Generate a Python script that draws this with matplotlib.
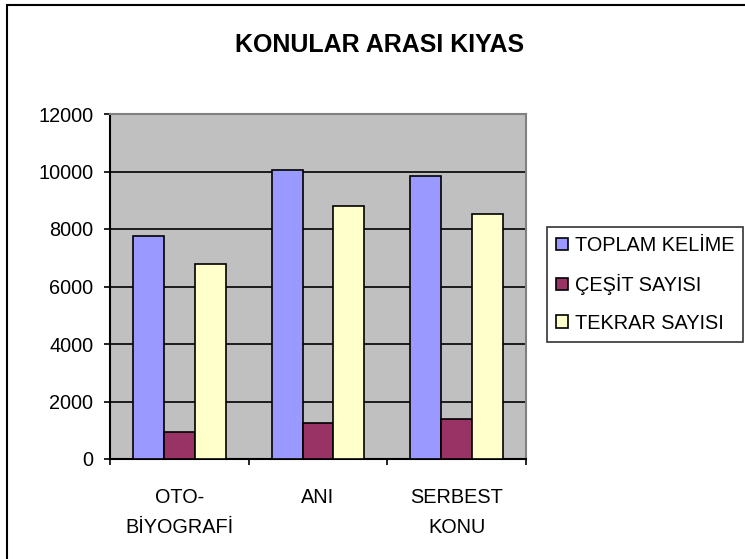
import matplotlib
matplotlib.use("Agg")
import matplotlib.pyplot as plt
from matplotlib.patches import Rectangle
import numpy as np

categories = ["OTO-\nBİYOGRAFİ", "ANI", "SERBEST\nKONU"]
series_names = ["TOPLAM KELİME", "ÇEŞİT SAYISI", "TEKRAR SAYISI"]
toplam_kelime = [7750, 10060, 9860]
cesit_sayisi = [950, 1240, 1390]
tekrar_sayisi = [6770, 8800, 8530]
y_ticks = [0, 2000, 4000, 6000, 8000, 10000, 12000]
title = "KONULAR ARASI KIYAS"

colors = ["#9999FF", "#993366", "#FFFFCC"]

plt.rcParams['font.family'] = ['Liberation Sans', 'DejaVu Sans']

W, H = 745, 559
fig = plt.figure(figsize=(W / 100, H / 100), dpi=100)
fig.patch.set_facecolor("white")

# outer chart border (cut off at right/bottom in the reference)
fig.patches.append(Rectangle((7 / W, -0.1), 2.0, (H - 5) / H + 0.1,
                             transform=fig.transFigure, fill=False,
                             edgecolor="black", linewidth=1.5, zorder=0))

ax = fig.add_axes([110 / W, (H - 459) / H, 416 / W, 345 / H])
ax.set_facecolor("#C0C0C0")

x = np.arange(len(categories))
w = 1 / 4.5
data = [toplam_kelime, cesit_sayisi, tekrar_sayisi]
for i, (vals, name, c) in enumerate(zip(data, series_names, colors)):
    ax.bar(x + (i - 1) * w, vals, width=w, color=c, edgecolor="black",
           linewidth=1.2, label=name, zorder=3)

ax.set_xlim(-0.5, len(categories) - 0.5)
ax.set_ylim(0, 12000)
ax.set_yticks(y_ticks)
ax.set_yticklabels([str(v) for v in y_ticks], fontsize=14.3)
ax.yaxis.grid(True, color="black", linewidth=1.2, zorder=1)
ax.set_axisbelow(True)

ax.set_xticks(np.arange(len(categories) + 1) - 0.5)
ax.set_xticklabels([])
ax.set_xticks(x, minor=True)
ax.set_xticklabels(categories, minor=True, fontsize=14.3, linespacing=1.75)
ax.tick_params(axis="x", which="minor", length=0, pad=21)
ax.tick_params(axis="x", which="major", direction="out", length=4, width=1.2)
ax.tick_params(axis="y", direction="out", length=4, width=1.2, pad=8)

for s in ["left", "bottom"]:
    ax.spines[s].set_color("black")
    ax.spines[s].set_linewidth(1.5)
for s in ["top", "right"]:
    ax.spines[s].set_color("#808080")
    ax.spines[s].set_linewidth(1.5)

fig.text(380 / W, 1 - 45 / H, title, ha="center", va="center",
         fontsize=18, fontweight="bold")

leg = fig.legend(loc="upper left", bbox_to_anchor=(547 / W, 1 - 227 / H),
                 bbox_transform=fig.transFigure, fontsize=14.3,
                 frameon=True, fancybox=False, edgecolor="black",
                 handlelength=0.6, handleheight=0.6, handletextpad=0.35,
                 labelspacing=0.95, borderpad=0.45, borderaxespad=0)
leg.get_frame().set_linewidth(1.2)
for h in leg.legend_handles:
    h.set_linewidth(1.2)

fig.savefig("out.png", dpi=100)
